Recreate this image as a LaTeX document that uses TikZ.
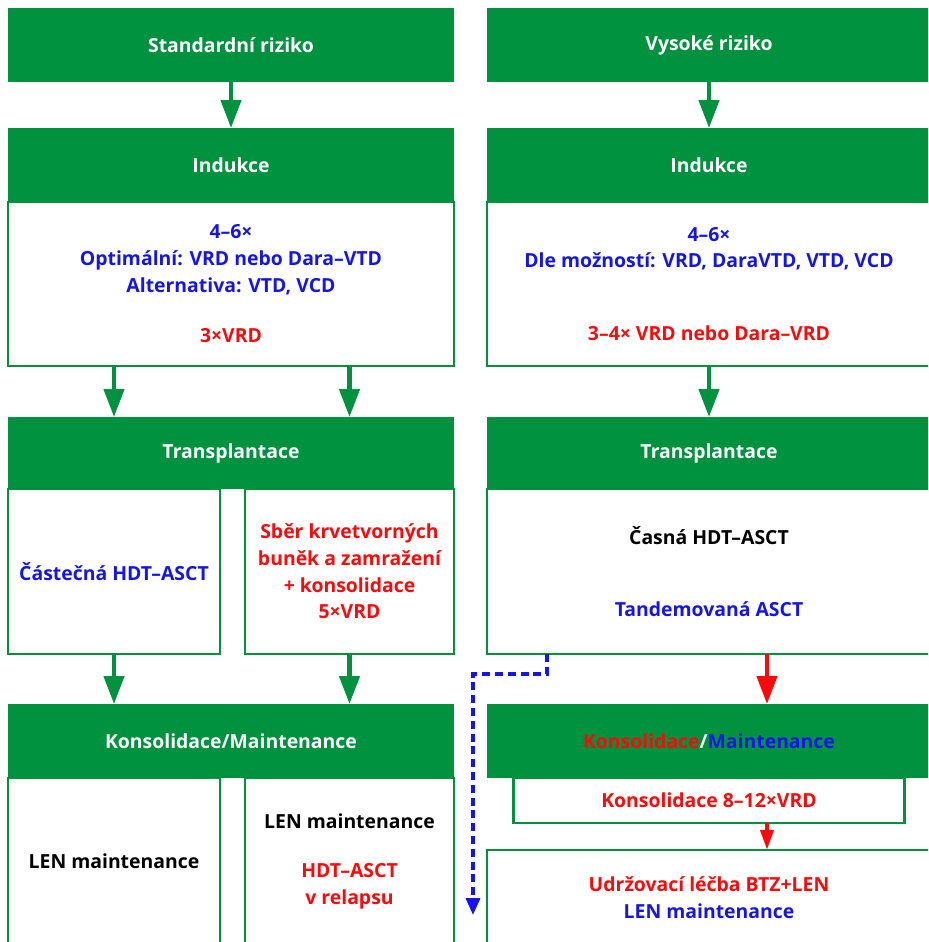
\documentclass[tikz,border=0pt]{standalone}
\usepackage{fontspec}
\setmainfont{Open Sans}
\usetikzlibrary{arrows.meta,positioning,calc}
\definecolor{mgreen}{RGB}{0,146,63}
\definecolor{mblue}{RGB}{20,20,235}
\definecolor{mred}{RGB}{250,10,10}

\begin{document}
\begin{tikzpicture}[
    font=\bfseries\fontsize{13.8}{19}\selectfont,
    hdr/.style={fill=mgreen, text=white, minimum width=11.15cm, minimum height=1.85cm, inner sep=0pt, outer sep=0pt},
    body/.style={draw=mgreen, line width=1.6pt, align=center, minimum width=11.15cm, inner sep=0pt, outer sep=0pt},
    garrow/.style={draw=mgreen, line width=3.2pt, -{Triangle[width=0.5cm, length=0.7cm]}},
    rarrow/.style={draw=mred, line width=3.2pt, -{Triangle[width=0.5cm, length=0.7cm]}},
    rsmall/.style={draw=mred, line width=3pt, -{Triangle[width=0.32cm, length=0.5cm]}},
    barrow/.style={draw=mblue, line width=2.2pt, dash pattern=on 0.2cm off 0.12cm, -{Triangle[width=0.35cm, length=0.42cm]}}
]
    \clip (0,0) rectangle (23.2,-23.55);

    % standardni riziko
    \node[hdr] (stdH) at (5.775,-1.125) {Standardní riziko};
    \node[hdr, below=1.15cm of stdH] (indL) {Indukce};
    \node[body, below=0pt of indL, minimum height=4.1cm, text=mblue] (indLb)
        {4–6×\\ Optimální: VRD nebo Dara–VTD\\ Alternativa: VTD, VCD\\[0.6cm] \textcolor{mred}{3×VRD}};
    \node[hdr, below=1.275cm of indLb, minimum height=1.8cm] (trLH) {Transplantace};
    \node[body, anchor=north west, minimum width=5.3cm, minimum height=4.125cm, text=mblue] (trLA)
        at (trLH.south west) {Částečná HDT–ASCT};
    \node[body, anchor=north east, minimum width=5.225cm, minimum height=4.125cm, text=mred] (trLB)
        at (trLH.south east) {Sběr krvetvorných\\ buněk a zamražení\\ + konsolidace\\ 5×VRD};
    \node[hdr, below=1.25cm of trLA.south -| trLH, minimum height=1.85cm] (koLH) {Konsolidace/Maintenance};
    \node[body, anchor=north west, minimum width=5.3cm, minimum height=4.175cm] (koLA)
        at (koLH.south west) {LEN maintenance};
    \node[body, anchor=north east, minimum width=5.225cm, minimum height=4.175cm] (koLB)
        at (koLH.south east) {LEN maintenance\\[0.55cm] \textcolor{mred}{HDT–ASCT}\\ \textcolor{mred}{v relapsu}};

    % vysoke riziko
    \node[hdr, minimum width=11.1cm] (hiH) at (17.725,-1.125) {Vysoké riziko};
    \node[hdr, minimum width=11.1cm, below=1.15cm of hiH] (indR) {Indukce};
    \node[body, minimum width=11.1cm, below=0pt of indR, minimum height=4.1cm, text=mblue] (indRb)
        {4–6×\\ Dle možností: VRD, DaraVTD, VTD, VCD\\[1.15cm] \textcolor{mred}{3–4× VRD nebo Dara–VRD}};
    \node[hdr, minimum width=11.1cm, below=1.275cm of indRb, minimum height=1.8cm] (trRH) {Transplantace};
    \node[body, minimum width=11.1cm, below=0pt of trRH, minimum height=4.125cm] (trRb)
        {Časná HDT–ASCT\\[1.125cm] \textcolor{mblue}{Tandemovaná ASCT}};
    \node[hdr, minimum width=11.1cm, below=1.25cm of trRb] (koRH)
        {\textcolor{mred}{Konsolidace}/\textcolor{mblue}{Maintenance}};
    \node[body, minimum width=9.775cm, below=0pt of koRH, minimum height=1.125cm, text=mred] (koRS)
        {Konsolidace 8–12×VRD};
    \node[body, minimum width=11.1cm, below=0.675cm of koRS, minimum height=2.375cm, text=mblue] (koRB)
        {\textcolor{mred}{Udržovací léčba BTZ+LEN}\\ LEN maintenance};

    \coordinate (redx) at (19.175,0);
    \coordinate (dashx) at (13.675,0);
    \coordinate (dashBend) at (11.825,-16.85);
    \coordinate (dashEnd) at (11.825,-22.875);

    % arrows
    \draw[garrow] (stdH.south) -- (indL.north);
    \draw[garrow] (indLb.south -| trLA.north) -- (trLH.north -| trLA.north);
    \draw[garrow] (indLb.south -| trLB.north) -- (trLH.north -| trLB.north);
    \draw[garrow] (trLA.south) -- (koLH.north -| trLA.south);
    \draw[garrow] (trLB.south) -- (koLH.north -| trLB.south);

    \draw[garrow] (hiH.south) -- (indR.north);
    \draw[garrow] (indRb.south) -- (trRH.north);
    \draw[rarrow] (trRb.south -| redx) -- (koRH.north -| redx);
    \draw[rsmall] (koRS.south -| redx) -- (koRB.north -| redx);
    \draw[barrow] (trRb.south -| dashx) |- (dashBend) -- (dashEnd);

\end{tikzpicture}
\end{document}
